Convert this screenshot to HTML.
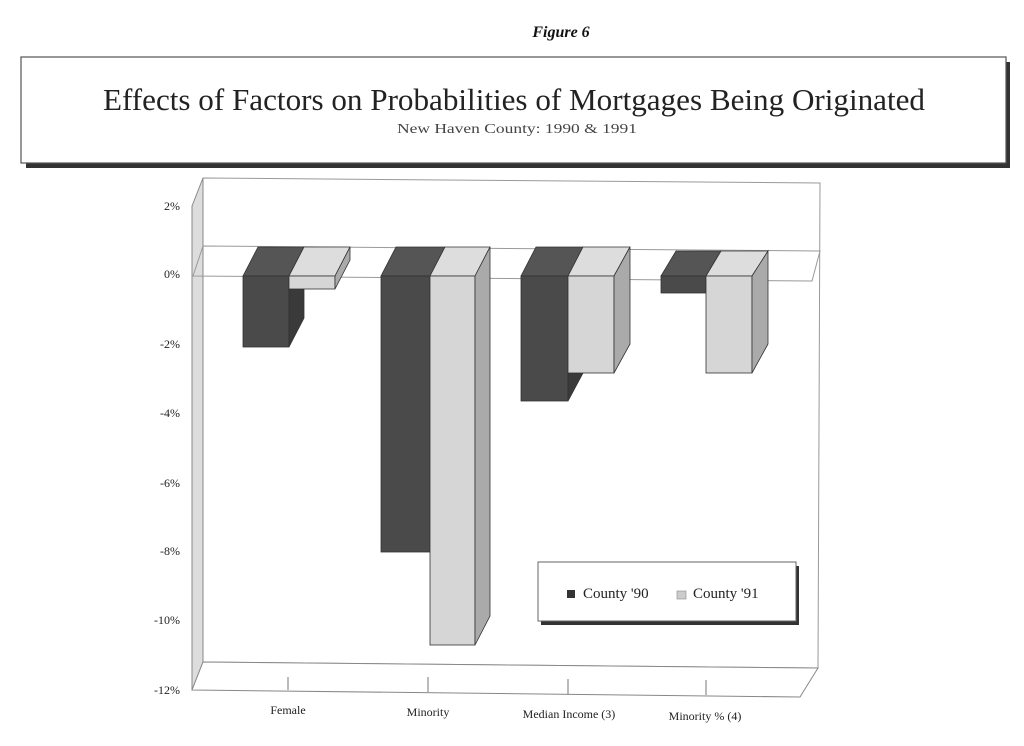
<!DOCTYPE html>
<html><head><meta charset="utf-8"><style>
body{margin:0;background:#fff;width:1024px;height:746px;overflow:hidden}
svg{display:block;font-family:"Liberation Serif",serif}
</style></head><body>
<svg width="1024" height="746" viewBox="0 0 1024 746">
<text x="561" y="37" font-size="16" font-weight="bold" font-style="italic" text-anchor="middle" fill="#111">Figure 6</text>
<rect x="26" y="62" width="984" height="106" fill="#333"/>
<rect x="21" y="57" width="985" height="106" fill="#fff" stroke="#555" stroke-width="1.2"/>
<text x="514" y="110" font-size="31" text-anchor="middle" fill="#222" textLength="822" lengthAdjust="spacingAndGlyphs">Effects of Factors on Probabilities of Mortgages Being Originated</text>
<text x="517" y="133" font-size="14" text-anchor="middle" fill="#444" textLength="240" lengthAdjust="spacingAndGlyphs">New Haven County: 1990 &amp; 1991</text>

<polygon points="203,178 820,183 818,668 203,662" fill="#fff" stroke="#999" stroke-width="1"/>
<polygon points="192,206 203,178 203,662 192,690" fill="#ddd" stroke="#888" stroke-width="1"/>
<polygon points="192,690 203,662 818,668 800,697" fill="#fff" stroke="#888" stroke-width="1"/>
<polygon points="193,276 203,246 820,251 812,281" fill="none" stroke="#999" stroke-width="1"/>

<g font-size="12" fill="#222" text-anchor="end">
<text x="180" y="210">2%</text><text x="180" y="278">0%</text><text x="180" y="348">-2%</text>
<text x="180" y="417">-4%</text><text x="180" y="487">-6%</text><text x="180" y="555">-8%</text>
<text x="180" y="624">-10%</text><text x="180" y="694">-12%</text>
</g>

<g stroke="#333" stroke-width="0.8">
<polygon points="243,276 258,247 304,247 289,276" fill="#555"/>
<rect x="243" y="276" width="46" height="71" fill="#4a4a4a"/>
<polygon points="289,276 304,247 304,318 289,347" fill="#3a3a3a"/>
<polygon points="289,276 304,247 350,247 335,276" fill="#ddd"/>
<rect x="289" y="276" width="46" height="13" fill="#d6d6d6"/>
<polygon points="335,276 350,247 350,260 335,289" fill="#aaa"/>

<polygon points="381,276 396,247 445,247 430,276" fill="#555"/>
<rect x="381" y="276" width="49" height="276" fill="#4a4a4a"/>
<polygon points="430,276 445,247 490,247 475,276" fill="#ddd"/>
<rect x="430" y="276" width="45" height="369" fill="#d6d6d6"/>
<polygon points="475,276 490,247 490,616 475,645" fill="#aaa"/>

<polygon points="521,276 536,247 583,247 568,276" fill="#555"/>
<rect x="521" y="276" width="47" height="125" fill="#4a4a4a"/>
<polygon points="568,373 583,373 568,401" fill="#3a3a3a"/>
<polygon points="568,276 583,247 630,247 614,276" fill="#ddd"/>
<rect x="568" y="276" width="46" height="97" fill="#d6d6d6"/>
<polygon points="614,276 630,247 630,344 614,373" fill="#aaa"/>

<polygon points="661,276 676,251 721,251 706,276" fill="#555"/>
<rect x="661" y="276" width="45" height="17" fill="#4a4a4a"/>
<polygon points="706,276 721,251 768,251 752,276" fill="#ddd"/>
<rect x="706" y="276" width="46" height="97" fill="#d6d6d6"/>
<polygon points="752,276 768,251 768,344 752,373" fill="#aaa"/>
</g>

<g stroke="#777"><line x1="288" y1="677" x2="288" y2="690"/><line x1="428" y1="677" x2="428" y2="692"/><line x1="568" y1="679" x2="568" y2="694"/><line x1="706" y1="680" x2="706" y2="695"/></g>
<g font-size="12" fill="#222" text-anchor="middle">
<text x="288" y="714">Female</text><text x="428" y="716">Minority</text>
<text x="569" y="718">Median Income (3)</text><text x="705" y="720">Minority % (4)</text>
</g>

<rect x="541" y="566" width="258" height="59" fill="#333"/>
<rect x="538" y="562" width="258" height="59" fill="#fff" stroke="#666"/>
<rect x="567" y="590" width="8" height="8" fill="#333"/>
<text x="583" y="598" font-size="15" fill="#222">County '90</text>
<rect x="677" y="591" width="9" height="8" fill="#ccc" stroke="#888" stroke-width="0.6"/>
<text x="693" y="598" font-size="15" fill="#222">County '91</text>
</svg>
</body></html>
